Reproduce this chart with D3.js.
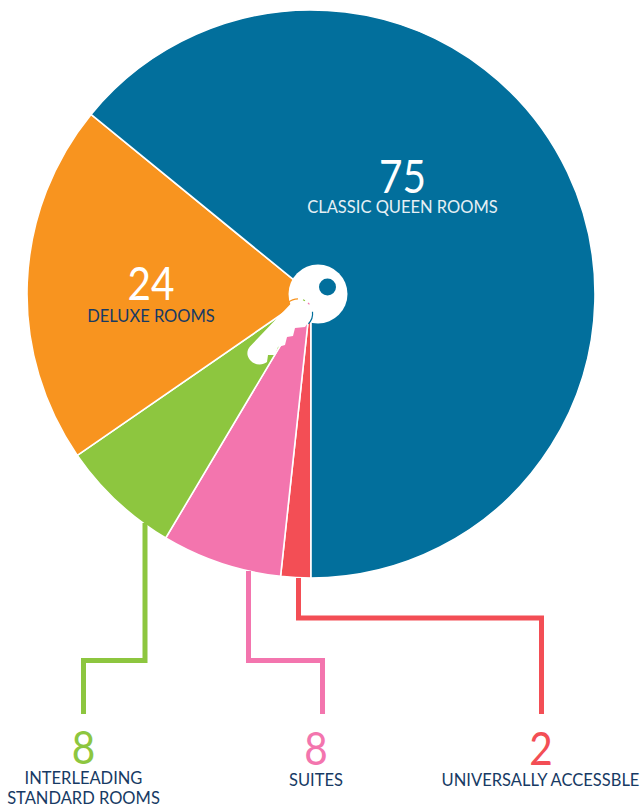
<!DOCTYPE html>
<html>
<head>
<meta charset="utf-8">
<script src="https://cdn.jsdelivr.net/npm/d3@7"></script>
<style>
  html, body { margin: 0; padding: 0; background: #fff; }
  text { font-family: Lato, "Open Sans", sans-serif; }
  .num { font-weight: 400; font-size: 46px; text-anchor: middle; }
  .lbl { font-size: 16.5px; text-anchor: middle; fill: #173a64; }
</style>
</head>
<body>
<div id="container"></div>
<script>
/* CONSTANTS AND GLOBALS */
const width = 641,
  height = 807,
  cx = 311,
  cy = 294,
  radius = 284;

/* DATA */
const rooms = ["UNIVERSALLY ACCESSBLE", "SUITES", "INTERLEADING", "DELUXE ROOMS", "CLASSIC QUEEN ROOMS"];
const counts = [2, 8, 8, 24, 75];
const colors = ["#f34e55", "#f375ae", "#8dc63f", "#f8941f", "#026f9c"];

const svg = d3.select("#container")
  .append("svg")
  .attr("width", width)
  .attr("height", height)
  .style("display", "block");

// PIE
const pie = d3.pie()
  .sort(null)
  .startAngle(Math.PI)
  .endAngle(3 * Math.PI);
const arcGen = d3.arc().innerRadius(0).outerRadius(radius);
const color = d3.scaleOrdinal().domain(rooms).range(colors);

const slices = pie(counts);

svg.append("g")
  .attr("transform", `translate(${cx}, ${cy})`)
  .selectAll("path")
  .data(slices)
  .join("path")
  .attr("fill", (d, i) => color(rooms[i]))
  .attr("stroke", "#fff")
  .attr("stroke-width", 1.6)
  .attr("d", arcGen);

// LEADER LINES
const leaders = [
  { i: 2, pts: [[145, 523], [145, 660.5], [83.5, 660.5], [83.5, 714]] },
  { i: 1, pts: [[248.5, 571], [248.5, 660.5], [322.5, 660.5], [322.5, 714]] },
  { i: 0, pts: [[298.5, 578], [298.5, 618], [541.5, 618], [541.5, 714]] }
];
const lineGen = d3.line();
svg.selectAll(".leader")
  .data(leaders)
  .join("path")
  .attr("class", "leader")
  .attr("fill", "none")
  .attr("stroke", d => colors[d.i])
  .attr("stroke-width", 5)
  .attr("stroke-linejoin", "miter")
  .attr("d", d => lineGen(d.pts));

// KEY
const key = svg.append("g");
key.append("circle")
  .attr("cx", 318).attr("cy", 294).attr("r", 29.5)
  .attr("fill", "#fff");
key.append("circle")
  .attr("cx", 327.5).attr("cy", 287).attr("r", 8.5)
  .attr("fill", colors[4]);

// thin gap between the bow and the blade, the slices show through it
const gap = d3.arc().innerRadius(14).outerRadius(15.2);
const gapParts = [
  { c: colors[3], a0: -0.75, a1: 0.0 },
  { c: colors[2], a0: 0.35, a1: 0.5 },
  { c: colors[1], a0: 0.75, a1: 0.9 },
  { c: colors[4], a0: 1.45, a1: 2.35 }
];
key.selectAll(".gap")
  .data(gapParts)
  .join("path")
  .attr("class", "gap")
  .attr("transform", "translate(298, 313.5)")
  .attr("fill", d => d.c)
  .attr("d", d => gap({ startAngle: d.a0, endAngle: d.a1 }));

key.append("path")
  .attr("fill", "#fff")
  .attr("d", "M291.5,303 C295,299 303,299 307,304 C310,309 311,316 310,320 L305,327 L295,328 L293,336 L287,337 L285,345 L278,347 L275,355 L268,355 L267,362 " +
    "C262,366 254,365 250,360 C246,355 247,350 250,346.5 Z");

// LABELS
const valueLabels = [
  { i: 4, x: 402.5, y: 193, fill: "#fff" },
  { i: 3, x: 151, y: 300, fill: "#fff" },
  { i: 2, x: 83.5, y: 764, fill: colors[2] },
  { i: 1, x: 316, y: 765, fill: colors[1] },
  { i: 0, x: 541, y: 765, fill: colors[0] }
];
svg.selectAll(".num")
  .data(valueLabels)
  .join("text")
  .attr("class", "num")
  .attr("x", d => d.x)
  .attr("y", d => d.y)
  .attr("fill", d => d.fill)
  .attr("textLength", d => String(counts[d.i]).length * 23.5)
  .attr("lengthAdjust", "spacingAndGlyphs")
  .text(d => counts[d.i]);

const nameLabels = [
  { t: rooms[4], x: 402.5, y: 213, fill: "#e6f0f5" },
  { t: rooms[3], x: 151, y: 321.5 },
  { t: rooms[2], x: 83.5, y: 783.5 },
  { t: "STANDARD ROOMS", x: 83.5, y: 803.5 },
  { t: rooms[1], x: 316, y: 785.5 },
  { t: rooms[0], x: 540.5, y: 785.5 }
];
svg.selectAll(".lbl")
  .data(nameLabels)
  .join("text")
  .attr("class", "lbl")
  .attr("x", d => d.x)
  .attr("y", d => d.y)
  .style("fill", d => d.fill || null)
  .text(d => d.t);
</script>
</body>
</html>
